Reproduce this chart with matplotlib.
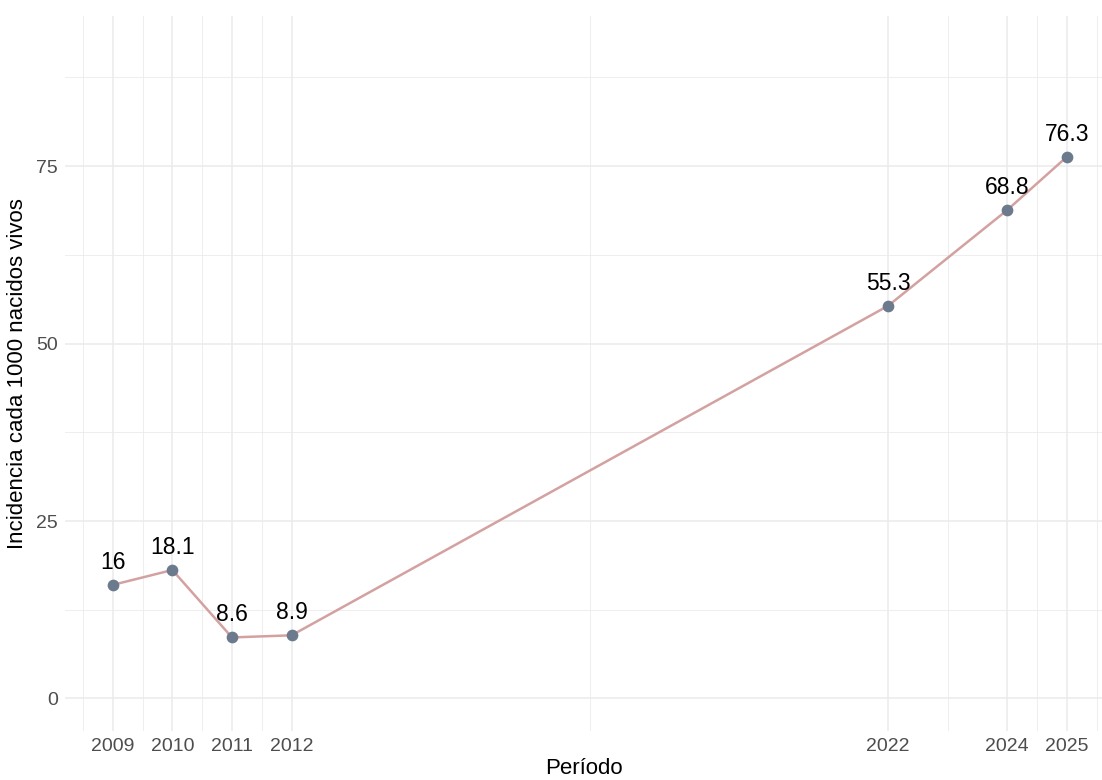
import matplotlib
matplotlib.use("Agg")
import matplotlib.pyplot as plt
import numpy as np

plt.rcParams["font.family"] = ["Liberation Sans", "DejaVu Sans"]

years = [2009, 2010, 2011, 2012, 2022, 2024, 2025]
incidence = [16, 18.1, 8.6, 8.9, 55.3, 68.8, 76.3]
labels = ["16", "18.1", "8.6", "8.9", "55.3", "68.8", "76.3"]
y_ticks = [0, 25, 50, 75]

W, H = 1102, 780
fig = plt.figure(figsize=(W / 100, H / 100), dpi=100)
# panel in pixel coords: left 65, right at image edge, top 16, bottom 731
left, right, top, bottom = 65, 1102, 16, 731
ax = fig.add_axes([left / W, 1 - bottom / H, (right - left) / W, (bottom - top) / H])

ax.set_xlim(2008.2, 2025.59)
ax.set_ylim(-4.58, 96.14)

# minor grid: midpoints between breaks (ggplot style)
xb = np.array(years, dtype=float)
x_minor = list((xb[:-1] + xb[1:]) / 2) + [2008.5, 2025.5]
y_minor = [12.5, 37.5, 62.5, 87.5]
for x in x_minor:
    ax.axvline(x, color="#EBEBEB", lw=0.6, zorder=0)
for y in y_minor:
    ax.axhline(y, color="#EBEBEB", lw=0.6, zorder=0)
for x in years:
    ax.axvline(x, color="#EBEBEB", lw=1.1, zorder=0)
for y in y_ticks:
    ax.axhline(y, color="#EBEBEB", lw=1.1, zorder=0)

ax.plot(years, incidence, color="#D4A1A1", lw=1.8, zorder=2)
ax.scatter(years, incidence, s=55, color="#6B7A8C", zorder=3)
for x, y, t in zip(years, incidence, labels):
    ax.annotate(t, (x, y), xytext=(0, 8), textcoords="offset points",
                ha="center", va="bottom", fontsize=16.5, color="black")

ax.set_xticks(years)
ax.set_xticklabels([str(y) for y in years])
ax.set_yticks(y_ticks)
ax.tick_params(length=0, labelsize=14, labelcolor="#4D4D4D", pad=5)
for s in ax.spines.values():
    s.set_visible(False)

ax.set_xlabel("Período", fontsize=16, labelpad=2)
ax.set_ylabel("Incidencia cada 1000 nacidos vivos", fontsize=16, labelpad=6)

fig.savefig("out.png", dpi=100)
